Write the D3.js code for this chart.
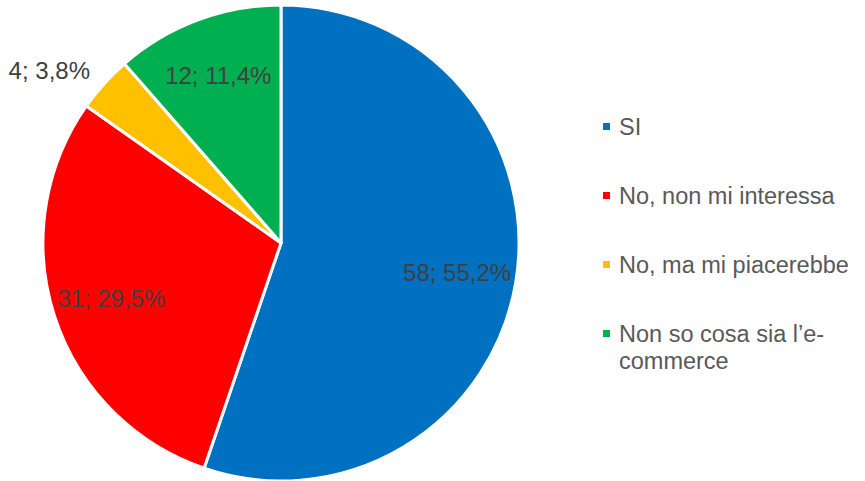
<!DOCTYPE html>
<html>
<head>
<meta charset="utf-8">
<script src="https://cdn.jsdelivr.net/npm/d3@7"></script>
<style>
  html, body { margin: 0; padding: 0; background: #fff; }
  svg { display: block; font-family: "Liberation Sans", Arial, sans-serif; }
</style>
</head>
<body>
<svg id="chart" width="865" height="481"></svg>
<script>
// Survey answers: does the respondent shop online?
const categories = ["SI", "No, non mi interessa", "No, ma mi piacerebbe", "Non so cosa sia l\u2019e-commerce"];
const legendLines = [["SI"], ["No, non mi interessa"], ["No, ma mi piacerebbe"], ["Non so cosa sia l\u2019e-", "commerce"]];
const counts = [58, 31, 4, 12];
const percentLabels = ["55,2%", "29,5%", "3,8%", "11,4%"];
const colors = ["#0070C0", "#FF0000", "#FFC000", "#00B050"];

const width = 865, height = 481;
const cx = 281, cy = 243, radius = 238;

const svg = d3.select("#chart");
const g = svg.append("g").attr("transform", `translate(${cx},${cy})`);

const pie = d3.pie().sort(null).value(d => d.value);
const data = categories.map((c, i) => ({ name: c, value: counts[i], pct: percentLabels[i], color: colors[i] }));
const arcs = pie(data);

const arc = d3.arc().innerRadius(0).outerRadius(radius);

g.selectAll("path.slice")
  .data(arcs)
  .join("path")
  .attr("class", "slice")
  .attr("d", arc)
  .attr("fill", d => d.data.color)
  .attr("stroke", "#fff")
  .attr("stroke-width", 3)
  .attr("stroke-linejoin", "round");

// Data labels: inside for large slices, outside (right-aligned) for small ones
const total = d3.sum(counts);
const innerLabelArc = d3.arc().innerRadius(radius * 0.75).outerRadius(radius * 0.75);
g.selectAll("text.lbl")
  .data(arcs)
  .join("text")
  .attr("class", "lbl")
  .attr("font-size", 24)
  .attr("fill", "#404040")
  .attr("dy", "0.35em")
  .each(function (d) {
    const small = d.data.value / total < 0.06;
    const mid = (d.startAngle + d.endAngle) / 2;
    let x, y, anchor;
    if (small) {
      const r = radius * 1.08;
      x = Math.sin(mid) * r;
      y = -Math.cos(mid) * r;
      anchor = "end";
    } else {
      [x, y] = innerLabelArc.centroid(d);
      anchor = "middle";
    }
    d3.select(this)
      .attr("x", x)
      .attr("y", y)
      .attr("text-anchor", anchor)
      .text(`${d.data.value}; ${d.data.pct}`);
  });

// Legend
const legendX = 603, legendTop = 135, rowGap = 69, lineGap = 27;
const legend = svg.append("g").attr("class", "legend");
const rows = legend.selectAll("g.row")
  .data(data)
  .join("g")
  .attr("class", "row")
  .attr("transform", (d, i) => `translate(${legendX},${legendTop + i * rowGap})`);

rows.append("rect")
  .attr("x", 0)
  .attr("y", -12)
  .attr("width", 7)
  .attr("height", 7)
  .attr("fill", d => d.color);

rows.append("text")
  .attr("font-size", 23.5)
  .attr("fill", "#595959")
  .each(function (d, i) {
    d3.select(this).selectAll("tspan")
      .data(legendLines[i])
      .join("tspan")
      .attr("x", 16)
      .attr("y", (t, j) => j * lineGap)
      .text(t => t);
  });
</script>
</body>
</html>
